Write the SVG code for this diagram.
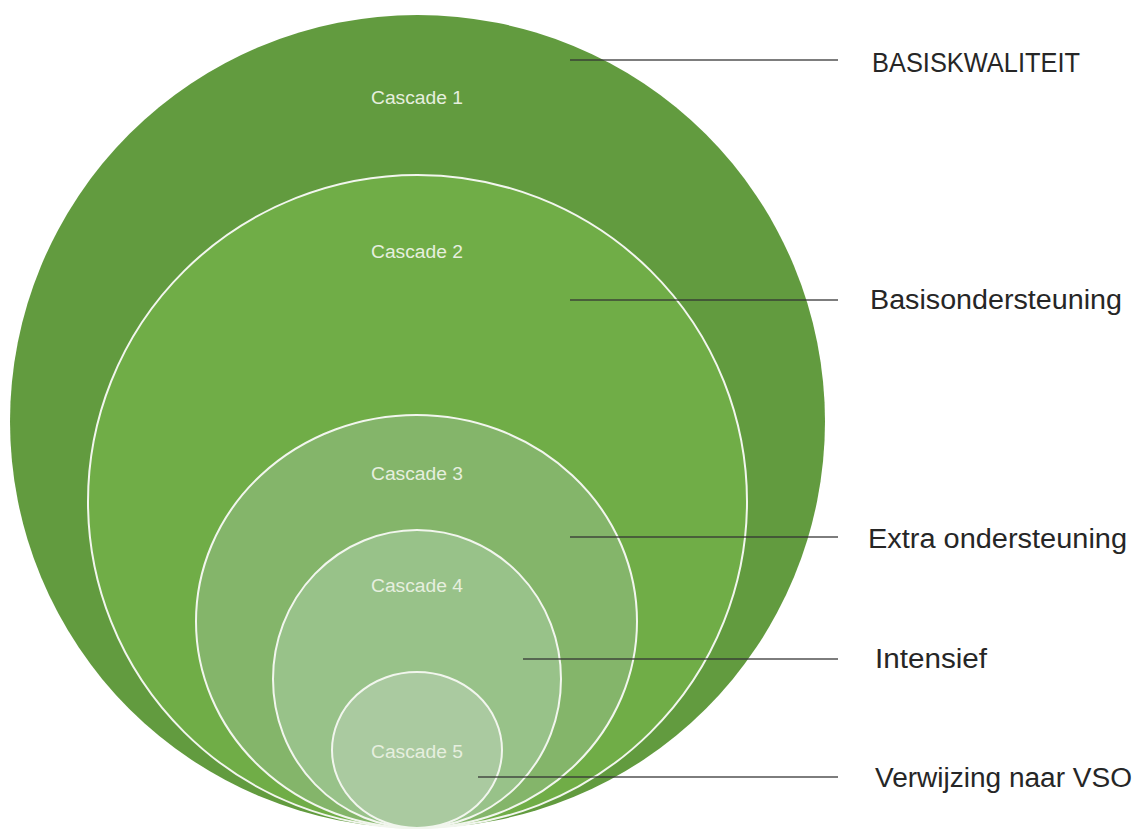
<svg xmlns="http://www.w3.org/2000/svg" width="1141" height="830" viewBox="0 0 1141 830">
<style>
.ring{stroke:#f2f6ee;stroke-width:2}
.cl{font-family:"Liberation Sans","DejaVu Sans",sans-serif;font-size:18px;fill:#e6efdf;text-anchor:middle}
.lbl{font-family:"Liberation Sans","DejaVu Sans",sans-serif;font-size:27px;fill:#262626}
.ln{stroke:#333;stroke-width:1.6;stroke-opacity:0.85}
</style>
<rect width="1141" height="830" fill="#ffffff"/>
<g id="cascade1"><ellipse cx="417.5" cy="421.5" rx="407.5" ry="406.5" fill="#629b3f"/><text class="cl" x="417" y="104" textLength="92" lengthAdjust="spacingAndGlyphs">Cascade 1</text></g>
<g id="cascade2"><ellipse class="ring" cx="417.5" cy="501.5" rx="329.5" ry="326.5" fill="#70ad47"/><text class="cl" x="417" y="258" textLength="92" lengthAdjust="spacingAndGlyphs">Cascade 2</text></g>
<g id="cascade3"><ellipse class="ring" cx="416.5" cy="621.5" rx="220.5" ry="206.5" fill="#84b56a"/><text class="cl" x="417" y="480" textLength="92" lengthAdjust="spacingAndGlyphs">Cascade 3</text></g>
<g id="cascade4"><ellipse class="ring" cx="417" cy="679" rx="144" ry="149" fill="#98c289"/><text class="cl" x="417" y="592" textLength="92" lengthAdjust="spacingAndGlyphs">Cascade 4</text></g>
<g id="cascade5"><ellipse class="ring" cx="417" cy="750" rx="85" ry="78" fill="#aacaa0"/><text class="cl" x="417" y="758" textLength="92" lengthAdjust="spacingAndGlyphs">Cascade 5</text></g>
<g id="connectors">
<line class="ln" x1="570" y1="60" x2="838" y2="60"/>
<line class="ln" x1="570" y1="300" x2="838" y2="300"/>
<line class="ln" x1="570" y1="537" x2="838" y2="537"/>
<line class="ln" x1="523" y1="659" x2="838" y2="659"/>
<line class="ln" x1="478" y1="777" x2="838" y2="777"/>
</g>
<g id="labels">
<text class="lbl" x="872" y="72" textLength="208" lengthAdjust="spacingAndGlyphs">BASISKWALITEIT</text>
<text class="lbl" x="870" y="309" textLength="252" lengthAdjust="spacingAndGlyphs">Basisondersteuning</text>
<text class="lbl" x="868" y="548" textLength="259" lengthAdjust="spacingAndGlyphs">Extra ondersteuning</text>
<text class="lbl" x="875" y="668" textLength="112" lengthAdjust="spacingAndGlyphs">Intensief</text>
<text class="lbl" x="875" y="787" textLength="257" lengthAdjust="spacingAndGlyphs">Verwijzing naar VSO</text>
</g>
</svg>
